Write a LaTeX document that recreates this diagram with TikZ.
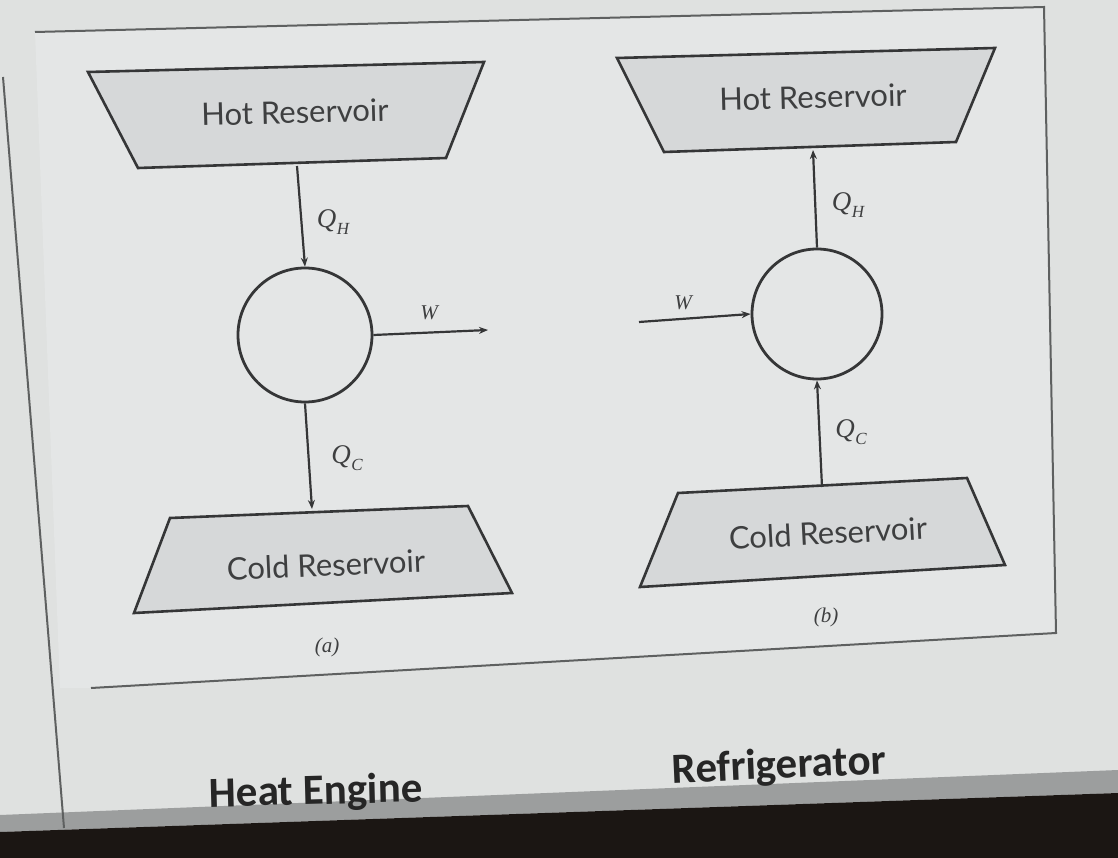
\documentclass[tikz,border=0pt]{standalone}
\usepackage{fontspec}
\setmainfont{Lato}
\newfontfamily\capfont{Carlito}
\newfontfamily\serif{Liberation Serif}
\usetikzlibrary{arrows.meta}
\definecolor{bg}{HTML}{DFE1E0}
\definecolor{panel}{HTML}{E4E6E6}
\definecolor{resfill}{HTML}{D6D8D9}
\definecolor{ink}{HTML}{353637}
\definecolor{txt}{HTML}{3E3F40}
\definecolor{frame}{HTML}{5E6060}
\definecolor{bezel}{HTML}{1B1613}
\definecolor{band}{HTML}{9C9E9E}
\newcommand{\qsym}[1]{{\serif\itshape Q\kern0.5pt\raisebox{-0.28em}{\fontsize{17}{19}\selectfont #1}}}
\begin{document}
\begin{tikzpicture}[x=1pt,y=-1pt,
  res/.style={draw=ink,fill=resfill,line width=2.6pt,line join=miter},
  restext/.style={text=txt,font=\fontsize{31}{36}\selectfont},
  engine/.style={circle,draw=ink,line width=2.8pt,fill=panel,minimum size=#1,inner sep=0pt},
  flow/.style={draw=ink,line width=2.2pt,-{Stealth[length=9pt,width=7pt]}},
  qlab/.style={text=txt,font=\fontsize{27}{30}\selectfont},
  wlab/.style={text=txt,font=\fontsize{21}{24}\selectfont\serif\itshape},
  sub/.style={text=txt,font=\fontsize{21}{24}\selectfont\serif\itshape},
  title/.style={text=black!85,font=\fontsize{43}{48}\selectfont\capfont\bfseries}]
\useasboundingbox (0,0) rectangle (1118,858);
% background
\fill[bg] (0,0) rectangle (1118,858);
\fill[panel] (35,32) -- (1044,7) -- (1056,633) -- (91,688) -- (60,688) -- cycle;
\fill[band] (0,815) -- (1118,770) -- (1118,793) -- (0,832) -- cycle;
\fill[bezel] (0,832) -- (1118,793) -- (1118,858) -- (0,858) -- cycle;
% frame lines
\draw[frame,line width=2pt] (35,32) -- (1044,7) -- (1056,633) -- (91,688);
\draw[frame,line width=2pt] (3,77) -- (64,828);

% ---------- (a) heat engine ----------
\draw[res] (88,72) -- (484,62) -- (446,158) -- (138,168) -- cycle;
\node[restext,rotate=1.5] (hotA) at (295,112) {Hot Reservoir};
\coordinate (hotAb) at (297,166);
\draw[res] (170,518) -- (468,506) -- (512,593) -- (134,613) -- cycle;
\node[restext,rotate=2.5] (coldA) at (326,565) {Cold Reservoir};
\coordinate (coldAt) at (312,509);
\node[engine=134pt] (engA) at (305,335) {};
\coordinate (wA) at (488,330);
\draw[flow] (hotAb) -- (engA.north);
\draw[flow] (engA.south) -- (coldAt);
\draw[flow] (engA.east) -- (wA);
\node[qlab] (qhA) at (333,222) {\qsym{H}};
\node[qlab] (qcA) at (347,458) {\qsym{C}};
\node[wlab] (wlA) at (429,313) {W};
\node[sub] (capA) at (327,647) {(a)};

% ---------- (b) refrigerator ----------
\draw[res] (617,58) -- (995,48) -- (956,142) -- (664,152) -- cycle;
\node[restext,rotate=1.5] (hotB) at (813,97) {Hot Reservoir};
\coordinate (hotBb) at (813,150);
\draw[res] (678,493) -- (967,478) -- (1005,565) -- (640,587) -- cycle;
\node[restext,rotate=3] (coldB) at (828,533) {Cold Reservoir};
\coordinate (coldBt) at (822,487);
\node[engine=130pt] (engB) at (817,314) {};
\coordinate (wB) at (639,322);
\draw[flow] (engB.north) -- (hotBb);
\draw[flow] (wB) -- (engB.west);
\draw[flow] (coldBt) -- (engB.south);
\node[qlab] (qhB) at (848,205) {\qsym{H}};
\node[qlab] (qcB) at (851,432) {\qsym{C}};
\node[wlab] (wlB) at (683,303) {W};
\node[sub] (capB) at (826,617) {(b)};

% ---------- titles ----------
\node[title,rotate=1.5] (he) at (316,793) {Heat Engine};
\node[title,rotate=2.5] (rf) at (779,767) {Refrigerator};
\end{tikzpicture}
\end{document}
